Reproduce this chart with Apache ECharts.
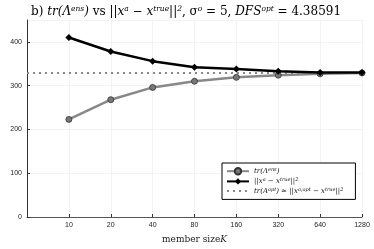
<!DOCTYPE html>
<html><head><meta charset="utf-8">
<script src="https://cdn.jsdelivr.net/npm/echarts@6/dist/echarts.min.js"></script>
<style>html,body{margin:0;padding:0;background:#fff}#c{width:374px;height:249px}</style>
</head><body><div id="c"></div>
<script>
const categories = ['', '10', '20', '40', '80', '160', '320', '640', '1280'];
const trEns = [null, 223, 268, 296, 310, 319, 324, 327, 329];
const errNorm = [null, 410, 378, 356, 342, 338, 333, 330, 330];
const optLevel = 329;
const yTicks = [0, 100, 200, 300, 400];

const optLine = categories.map(() => optLevel);
const chart = echarts.init(document.getElementById('c'), null, {renderer: 'canvas'});
const serif = '"DejaVu Serif", "Liberation Serif", serif';
const sans = '"Liberation Sans", "DejaVu Sans", sans-serif';
const rich = {
  it: {fontFamily: serif, fontStyle: 'italic', fontSize: 7, color: '#111'},
  rm: {fontFamily: serif, fontSize: 7, color: '#111'},
  sup: {fontFamily: serif, fontStyle: 'italic', fontSize: 5, color: '#111', verticalAlign: 'top', padding: [0,0,3,0]}
};
const legendText = {
  'trEns': '{it|tr(Λ}{sup|ens}{it|)}',
  'err': '{rm|||}{it|x}{sup|a}{rm| − }{it|x}{sup|true}{rm|||}{sup|2}',
  'opt': '{it|tr(A}{sup|opt}{it|)}{rm| ≈ ||}{it|x}{sup|a,opt}{rm| − }{it|x}{sup|true}{rm|||}{sup|2}'
};
chart.setOption({
  animation: false,
  backgroundColor: '#fff',
  title: {
    text: '{n|b) }{it|tr(Λ}{s|ens}{it|)}{n| vs ||}{it|x}{s|a}{n| − }{it|x}{s|true}{n|||}{s|2}{n|, σ}{s|o}{n| = 5, }{it|DFS}{s|opt}{n| = 4.38591}',
    left: 26, top: 0,
    textStyle: {
      fontWeight: 'normal',
      rich: {
        n: {fontFamily: serif, fontSize: 12, fontWeight: 'normal', color: '#000'},
        it: {fontFamily: serif, fontStyle: 'italic', fontWeight: 'normal', fontSize: 12, color: '#000'},
        s: {fontFamily: serif, fontStyle: 'italic', fontWeight: 'normal', fontSize: 7.5, color: '#000', verticalAlign: 'top', padding: [0,0,5,0]}
      }
    }
  },
  grid: {left: 27, right: 12, top: 20, bottom: 26, containLabel: false},
  legend: {
    left: 222, top: 163,
    orient: 'vertical',
    backgroundColor: '#fff',
    borderColor: '#000', borderWidth: 1,
    padding: [4, 12, 5, 4],
    itemGap: 2, itemWidth: 22, itemHeight: 8,
    formatter: name => legendText[name],
    textStyle: {rich: rich, fontSize: 7},
    data: ['trEns', 'err', {name: 'opt', itemStyle: {opacity: 0}}]
  },
  xAxis: {
    type: 'category', data: categories, boundaryGap: false,
    name: '{rm|member size}{it|K}', nameLocation: 'middle', nameGap: 18,
    nameTextStyle: {rich: {
      rm: {fontFamily: serif, fontSize: 9, color: '#222'},
      it: {fontFamily: serif, fontStyle: 'italic', fontSize: 9, color: '#222'}
    }},
    axisLine: {lineStyle: {color: '#555', width: 1}},
    axisTick: {inside: true, length: 3, lineStyle: {color: '#333'}},
    axisLabel: {fontFamily: sans, fontSize: 7, color: '#222', margin: 5},
    splitLine: {show: true, lineStyle: {color: '#f3f3f3', width: 1}}
  },
  yAxis: {
    type: 'value', min: 0, max: 450, interval: 100,
    axisLine: {show: true, lineStyle: {color: '#333', width: 1}},
    axisTick: {show: true, inside: true, length: 3, lineStyle: {color: '#333'}},
    axisLabel: {fontFamily: sans, fontSize: 7, color: '#222', margin: 5, showMaxLabel: false,
      formatter: v => yTicks.includes(v) ? String(v) : ''},
    splitLine: {show: true, lineStyle: {color: '#f3f3f3', width: 1}}
  },
  series: [
    {name: 'opt', type: 'line', data: optLine, symbol: 'none', z: 1,
     lineStyle: {color: '#888', width: 2, type: [2, 4]}, itemStyle: {color: '#888'}},
    {name: 'trEns', type: 'line', data: trEns, symbol: 'circle', symbolSize: 6, z: 2,
     lineStyle: {color: '#888', width: 2.5}, itemStyle: {color: '#777', borderColor: '#333', borderWidth: 0.8}},
    {name: 'err', type: 'line', data: errNorm, symbol: 'diamond', symbolSize: 7, z: 3,
     lineStyle: {color: '#000', width: 2.5}, itemStyle: {color: '#000'}}
  ]
});
</script></body></html>
